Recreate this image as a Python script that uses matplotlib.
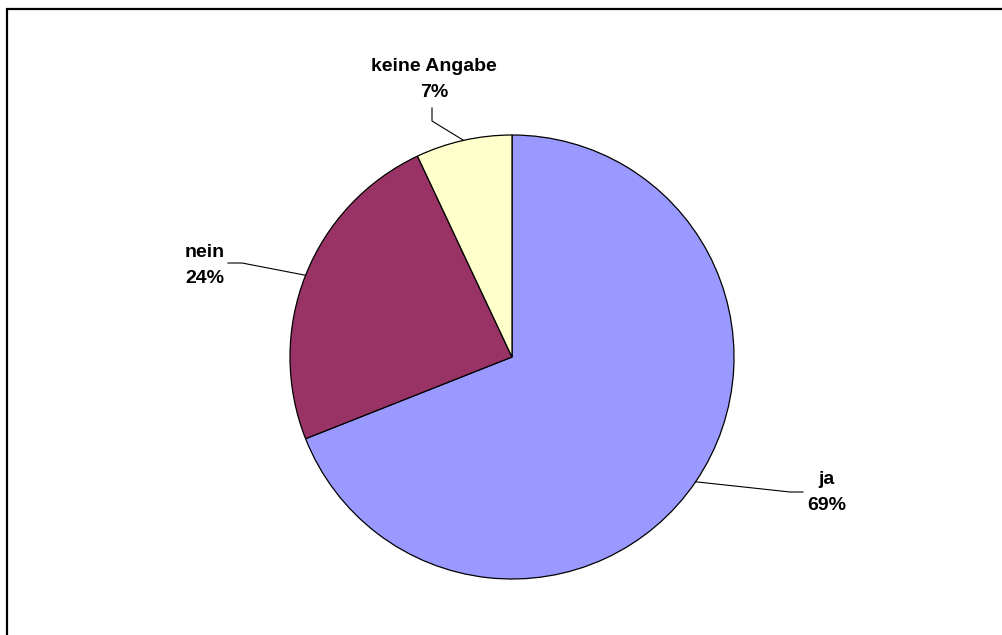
import numpy as np
import matplotlib
matplotlib.use("Agg")
import matplotlib.pyplot as plt

labels = ["ja", "nein", "keine Angabe"]
shares = [69, 24, 7]
colors = ["#9999FF", "#993366", "#FFFFCC"]

W, H = 1003, 635
CX, CY, R = 512, 357, 222

# label text centre x, baselines of name / percent line (pixels from top)
text_pos = {
    "ja": (826.5, 484, 510),
    "nein": (204.5, 257, 283),
    "keine Angabe": (434, 71, 97),
}
# text-side end of each leader line and its elbow
leader_ends = {
    "ja": [(803, 492), (790, 492)],
    "nein": [(228, 263), (242, 263)],
    "keine Angabe": [(432, 108), (432, 121)],
}

plt.rcParams["font.family"] = ["Liberation Sans", "DejaVu Sans"]

fig = plt.figure(figsize=(W / 100, H / 100), dpi=100)
ax = fig.add_axes([0, 0, 1, 1])

wedges, _ = ax.pie(shares, colors=colors, startangle=90, counterclock=False,
                   center=(CX, H - CY), radius=R, frame=True,
                   wedgeprops=dict(edgecolor="black", linewidth=0.9))
ax.set_xlim(0, W)
ax.set_ylim(0, H)
ax.set_aspect("equal")
ax.axis("off")

for w, name, val in zip(wedges, labels, shares):
    mid = np.deg2rad((w.theta1 + w.theta2) / 2)
    ax_x = CX + R * np.cos(mid)
    ax_y = H - CY + R * np.sin(mid)
    (ex, ey), (bx, by) = leader_ends[name]
    ax.plot([ex, bx, ax_x], [H - ey, H - by, ax_y], color="black", lw=0.8)
    tx, b1, b2 = text_pos[name]
    ax.text(tx, H - b1, name, ha="center", va="baseline",
            fontsize=14, fontweight="bold")
    ax.text(tx, H - b2, f"{val}%", ha="center", va="baseline",
            fontsize=14, fontweight="bold")

# border of the chart area (only top and left edges fall inside the image)
ax.plot([7, 7, W], [0, H - 8.5, H - 8.5], color="black", lw=1.6,
        clip_on=False, solid_joinstyle="miter")

fig.savefig("out.png", dpi=100)
